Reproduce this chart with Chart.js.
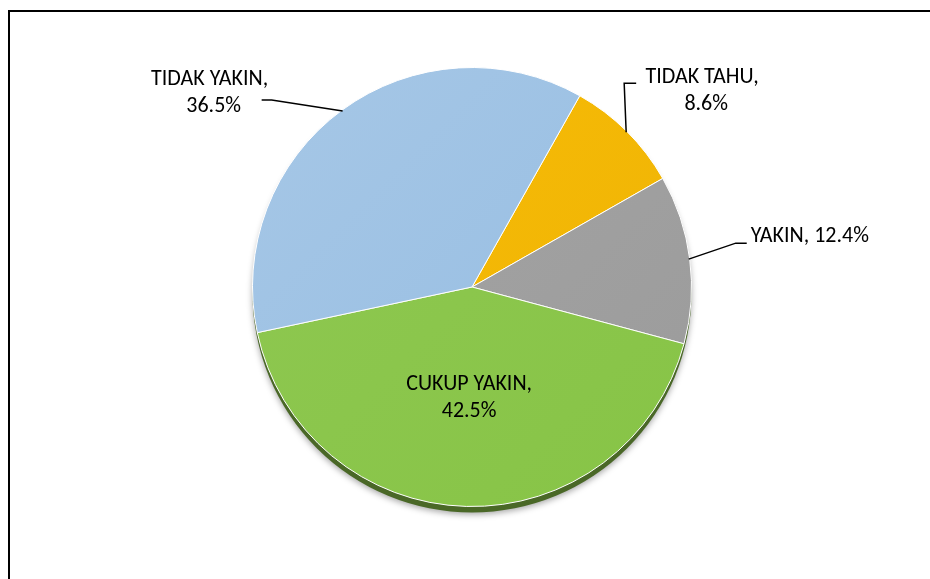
<!DOCTYPE html>
<html>
<head>
<meta charset="utf-8">
<script src="https://cdn.jsdelivr.net/npm/chart.js@4"></script>
<style>
  html, body { margin: 0; padding: 0; background: #fff; }
  .frame {
    position: absolute; left: 8px; top: 10px; right: -4px; bottom: -4px;
    border-left: 2px solid #000; border-top: 2px solid #000;
  }
  .wrap { position: absolute; left: 0; top: 0; width: 930px; height: 579px; }
</style>
</head>
<body>
<div class="frame"></div>
<div class="wrap"><canvas id="pieChart" width="930" height="579"></canvas></div>
<script>
// Data
const categories = ['TIDAK TAHU', 'YAKIN', 'CUKUP YAKIN', 'TIDAK YAKIN'];
const percentValues = [8.6, 12.4, 42.5, 36.5];
const sliceColors = ['#f3b705', '#a0a0a0', '#8bc64c', '#9dc2e4'];

// label placement: text block centre offset from the slice edge point, plus leader elbow
const labelStyle = [
    { lines: 2, text: [76, -42], elbow: [-2, -49], tail: 12, align: 'center' },
    { lines: 1, text: [62, -23], elbow: [47, -16], tail: 11, align: 'left' },
    { inside: true },
    { lines: 2, text: [-133, -18], elbow: [-71, -11], tail: -10, align: 'center' }
];

const FONT = '22px Carlito, Lato, "Liberation Sans", sans-serif';

// soft drop shadow under the pie
const pieShadow = {
    id: 'pieShadow',
    beforeDatasetsDraw(chart) {
        const arc = chart.getDatasetMeta(0).data[0];
        if (!arc) return;
        const { x, y, outerRadius } = arc.getProps(['x', 'y', 'outerRadius'], true);
        const ctx = chart.ctx;
        ctx.save();
        ctx.fillStyle = '#4a6827';
        ctx.shadowColor = 'rgba(0,0,0,0.35)';
        ctx.shadowBlur = 6;
        ctx.shadowOffsetY = 2;
        ctx.beginPath();
        ctx.arc(x, y + 6, outerRadius, 0, Math.PI * 2);
        ctx.fill();
        ctx.restore();
    }
};

// data labels with leader lines
const sliceLabels = {
    id: 'sliceLabels',
    afterDatasetsDraw(chart) {
        const ctx = chart.ctx;
        const meta = chart.getDatasetMeta(0);
        ctx.save();
        ctx.font = FONT;
        ctx.fillStyle = '#000';
        ctx.strokeStyle = '#000';
        ctx.lineWidth = 1.5;
        ctx.textBaseline = 'middle';
        meta.data.forEach((arc, i) => {
            const p = arc.getProps(['x', 'y', 'startAngle', 'endAngle', 'outerRadius'], true);
            const mid = (p.startAngle + p.endAngle) / 2;
            const name = categories[i];
            const pct = percentValues[i].toFixed(1) + '%';
            const st = labelStyle[i];
            if (st.inside) {
                const r = p.outerRadius * 0.5;
                const cx = p.x + Math.cos(mid) * r;
                const cy = p.y + Math.sin(mid) * r;
                ctx.textAlign = 'center';
                ctx.fillText(name + ',', cx, cy - 12);
                ctx.fillText(pct, cx, cy + 15);
                return;
            }
            const ax = p.x + Math.cos(mid) * (p.outerRadius - 1);
            const ay = p.y + Math.sin(mid) * (p.outerRadius - 1);
            const ex = ax + st.elbow[0];
            const ey = ay + st.elbow[1];
            ctx.beginPath();
            ctx.moveTo(ax, ay);
            ctx.lineTo(ex, ey);
            ctx.lineTo(ex + st.tail, ey);
            ctx.stroke();
            const tx = ax + st.text[0];
            const ty = ay + st.text[1];
            ctx.textAlign = st.align;
            if (st.lines === 2) {
                ctx.fillText(name + ',', tx, ty - 13);
                ctx.fillText(pct, tx + 4, ty + 14);
            } else {
                ctx.fillText(name + ', ' + pct, tx, ty);
            }
        });
        ctx.restore();
    }
};

function sliceFill(context) {
    const base = sliceColors[context.dataIndex];
    const chart = context.chart;
    const area = chart.chartArea;
    if (!area) return base;
    const g = chart.ctx.createLinearGradient(area.left, area.top, area.right, area.bottom);
    g.addColorStop(0, Chart.helpers.color(base).lighten(0.03).hexString());
    g.addColorStop(1, Chart.helpers.color(base).darken(0.03).hexString());
    return g;
}

window.onload = function () {
    const ctx = document.getElementById('pieChart').getContext('2d');
    new Chart(ctx, {
        type: 'pie',
        data: {
            labels: categories,
            datasets: [{
                data: percentValues,
                backgroundColor: sliceFill,
                borderColor: '#ffffff',
                borderWidth: 1
            }]
        },
        options: {
            responsive: false,
            animation: false,
            rotation: 29.4,
            layout: { padding: { left: 252, right: 238, top: 67, bottom: 72 } },
            plugins: {
                legend: { display: false },
                tooltip: { enabled: false }
            }
        },
        plugins: [pieShadow, sliceLabels]
    });
};
</script>
</body>
</html>
